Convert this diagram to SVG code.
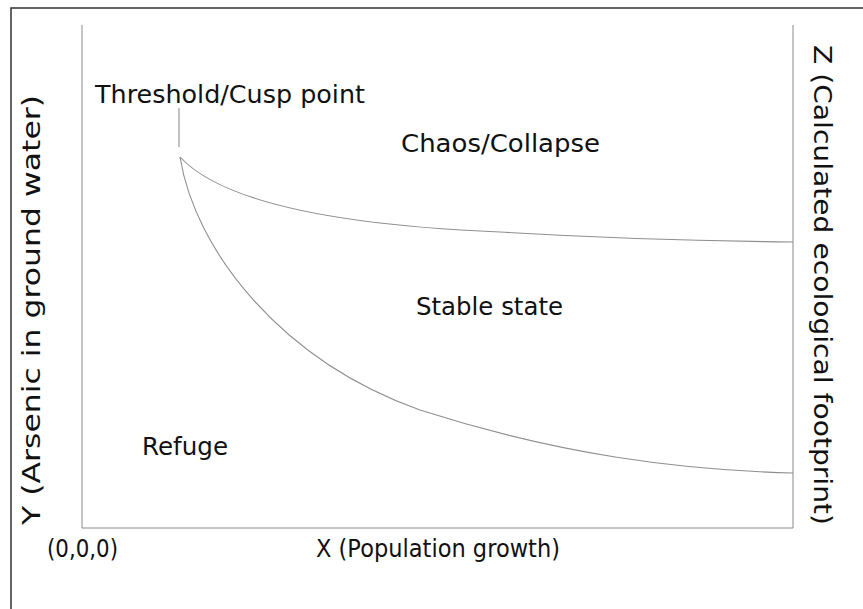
<svg xmlns="http://www.w3.org/2000/svg" width="863" height="609" viewBox="0 0 863 609">
<style>
.t{font-family:"DejaVu Sans","Liberation Sans",sans-serif;font-size:25px;fill:#111}
.ax{stroke:#8a8a8a;stroke-width:1;fill:none}
.cv{stroke:#8f8f8f;stroke-width:1.1;fill:none}
</style>
<rect width="863" height="609" fill="#fff"/>
<path d="M11,609 V8 H863" fill="none" stroke="#333" stroke-width="1.5"/>
<g id="axes">
<path class="ax" d="M82,25 V528 H793 V25"/>
</g>
<g id="connectors">
<path class="cv" d="M179,108 V147"/>
<path class="cv" d="M180,157 C220,200 330,225 500,232 C600,238 700,241 793,242"/>
<path class="cv" d="M180,157 C195,250 280,360 420,410 C560,455 680,470 793,473"/>
</g>
<g id="threshold"><text class="t" x="95" y="103" textLength="270" lengthAdjust="spacingAndGlyphs">Threshold/Cusp point</text></g>
<g id="chaos"><text class="t" x="401" y="152" textLength="199" lengthAdjust="spacingAndGlyphs">Chaos/Collapse</text></g>
<g id="stable"><text class="t" x="416" y="315" textLength="147" lengthAdjust="spacingAndGlyphs">Stable state</text></g>
<g id="refuge"><text class="t" x="142" y="455" textLength="86" lengthAdjust="spacingAndGlyphs">Refuge</text></g>
<g id="origin"><text class="t" x="47" y="557" textLength="71" lengthAdjust="spacingAndGlyphs">(0,0,0)</text></g>
<g id="xlabel"><text class="t" x="316" y="557" textLength="244" lengthAdjust="spacingAndGlyphs">X (Population growth)</text></g>
<g id="ylabel"><text class="t" transform="translate(40,525) rotate(-90)" textLength="430" lengthAdjust="spacingAndGlyphs">Y (Arsenic in ground water)</text></g>
<g id="zlabel"><text class="t" transform="translate(814,45) rotate(90)" textLength="480" lengthAdjust="spacingAndGlyphs">Z (Calculated ecological footprint)</text></g>
</svg>
